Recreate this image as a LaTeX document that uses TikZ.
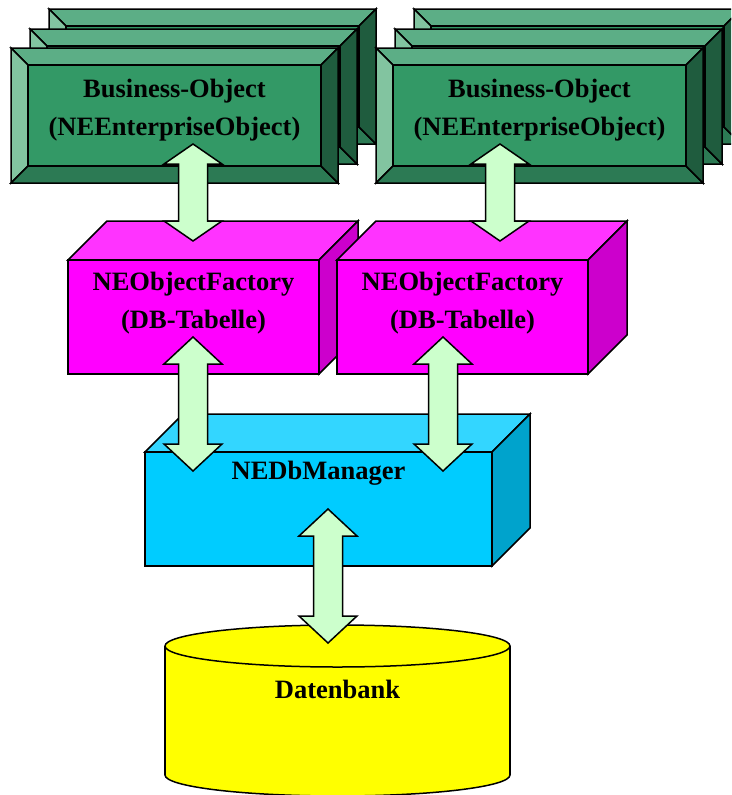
\documentclass[tikz,border=0pt]{standalone}
\usepackage{fontspec}
\setmainfont{Liberation Serif}
\usetikzlibrary{calc}

\definecolor{bvcenter}{RGB}{51,153,102}
\definecolor{bvtop}{RGB}{92,174,134}
\definecolor{bvleft}{RGB}{130,196,160}
\definecolor{bvbottom}{RGB}{44,122,84}
\definecolor{bvright}{RGB}{31,92,62}
\definecolor{mgfront}{RGB}{255,0,255}
\definecolor{mgtop}{RGB}{255,51,255}
\definecolor{mgside}{RGB}{204,0,204}
\definecolor{cyfront}{RGB}{0,204,255}
\definecolor{cytop}{RGB}{51,214,255}
\definecolor{cyside}{RGB}{0,163,204}
\definecolor{dbyellow}{RGB}{255,255,0}
\definecolor{arrowgreen}{RGB}{204,255,204}

\tikzset{
  edge/.style={draw=black, line width=1.5pt, line join=miter},
  arrowbody/.style={edge, fill=arrowgreen},
  lbl/.style={font=\fontsize{26.5}{38.5}\selectfont\bfseries, align=center, inner sep=0pt}
}

% bevelled panel: top-left corner (#1,#2), width 327, height 135, bevel 17
\newcommand\bevelpanel[2]{%
  \begin{scope}[shift={(#1,#2)}]
    \filldraw[edge, fill=bvtop] (0,0) -- (327,0) -- (310,17) -- (17,17) -- cycle;
    \filldraw[edge, fill=bvleft] (0,0) -- (17,17) -- (17,118) -- (0,135) -- cycle;
    \filldraw[edge, fill=bvbottom] (0,135) -- (17,118) -- (310,118) -- (327,135) -- cycle;
    \filldraw[edge, fill=bvright] (327,0) -- (327,135) -- (310,118) -- (310,17) -- cycle;
    \filldraw[edge, fill=bvcenter] (17,17) rectangle (310,118);
  \end{scope}}

% cuboid: front face top-left (#1,#2), width #3, height #4, depth #5, colours #6 #7 #8
\newcommand\cuboid[8]{%
  \begin{scope}[shift={(#1,#2)}]
    \filldraw[edge, fill=#7] (0,0) -- (#5,-#5) -- (#3+#5,-#5) -- (#3,0) -- cycle;
    \filldraw[edge, fill=#8] (#3,0) -- (#3+#5,-#5) -- (#3+#5,#4-#5) -- (#3,#4) -- cycle;
    \filldraw[edge, fill=#6] (0,0) rectangle (#3,#4);
  \end{scope}}

% double block arrow between two named tips, head length #3
\newcommand\duoarrow[3]{%
  \filldraw[arrowbody] (#1) -- ($(#1)+(29,#3)$) -- ($(#1)+(14.5,#3)$)
    -- ($(#2)+(14.5,-#3)$) -- ($(#2)+(29,-#3)$) -- (#2)
    -- ($(#2)+(-29,-#3)$) -- ($(#2)+(-14.5,-#3)$)
    -- ($(#1)+(-14.5,#3)$) -- ($(#1)+(-29,#3)$) -- cycle;}

\begin{document}
\begin{tikzpicture}[x=1pt, y=-1pt]
  \useasboundingbox (0,0) rectangle (731,795);
  \clip (0,0) rectangle (731,795);

  % business object stacks
  \bevelpanel{49}{9}
  \bevelpanel{30}{29}
  \bevelpanel{11}{48}
  \bevelpanel{414}{9}
  \bevelpanel{395}{29}
  \bevelpanel{376}{48}
  \node[lbl] (bo1) at (174.5,110) {Business-Object\\(NEEnterpriseObject)};
  \node[lbl] (bo2) at (539.5,110) {Business-Object\\(NEEnterpriseObject)};

  % object factories
  \cuboid{68}{260}{251}{114}{39}{mgfront}{mgtop}{mgside}
  \cuboid{337}{260}{251}{114}{39}{mgfront}{mgtop}{mgside}
  \node[lbl] (of1) at (193.5,303) {NEObjectFactory\\(DB-Tabelle)};
  \node[lbl] (of2) at (462.5,303) {NEObjectFactory\\(DB-Tabelle)};

  % database manager
  \cuboid{145}{452}{347}{114}{38}{cyfront}{cytop}{cyside}
  \node[lbl] (dbm) at (318.5,473) {NEDbManager};

  % database cylinder
  \filldraw[edge, fill=dbyellow] (337.5,775) ellipse [x radius=172.5, y radius=21];
  \fill[dbyellow] (165,646) rectangle (510,775);
  \draw[edge] (165,646) -- (165,775);
  \draw[edge] (510,646) -- (510,775);
  \filldraw[edge, fill=dbyellow] (337.5,646) ellipse [x radius=172.5, y radius=21];
  \node[lbl] (db) at (337.5,689) {Datenbank};

  % arrow tips
  \coordinate (a1t) at (193,144);  \coordinate (a1b) at (193,241);
  \coordinate (a2t) at (500,144);  \coordinate (a2b) at (500,241);
  \coordinate (a3t) at (193,337);  \coordinate (a3b) at (193,471);
  \coordinate (a4t) at (443,337);  \coordinate (a4b) at (443,471);
  \coordinate (a5t) at (328,509);  \coordinate (a5b) at (328,643);

  \duoarrow{a1t}{a1b}{20}
  \duoarrow{a2t}{a2b}{20}
  \duoarrow{a3t}{a3b}{27}
  \duoarrow{a4t}{a4b}{27}
  \duoarrow{a5t}{a5b}{27}
\end{tikzpicture}
\end{document}
